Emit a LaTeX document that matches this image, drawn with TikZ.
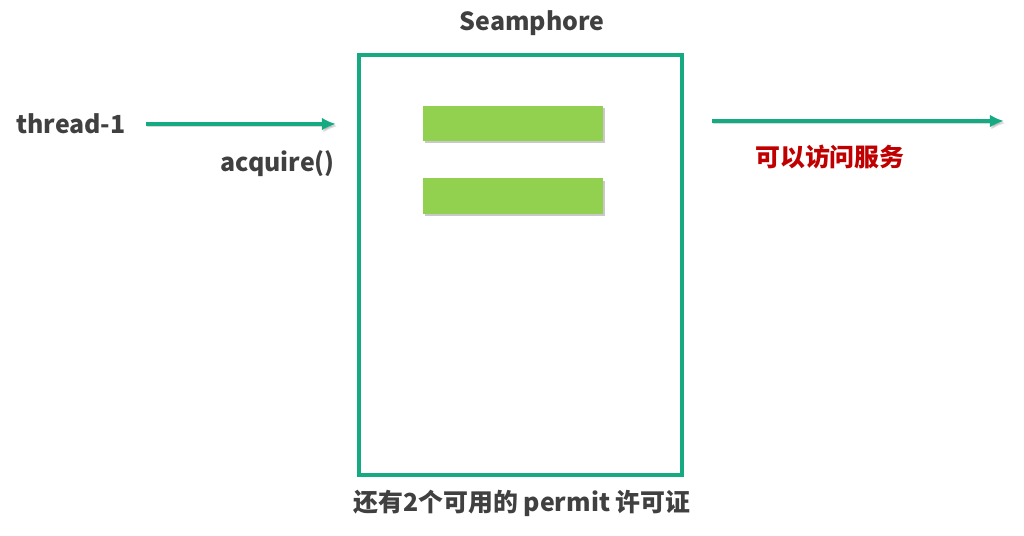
\documentclass[tikz,border=0pt]{standalone}
\usepackage{fontspec}
\setmainfont{Noto Sans CJK SC}
\usetikzlibrary{arrows.meta,shadows}
\definecolor{semgreen}{RGB}{22,170,130}
\definecolor{permitgreen}{RGB}{146,208,80}
\definecolor{labelgray}{RGB}{64,64,64}
\definecolor{okred}{RGB}{192,0,0}
\tikzset{
  labeltext/.style={font=\fontsize{17.7}{20}\selectfont\bfseries, text=labelgray, inner sep=0pt},
  flow/.style={draw=semgreen, line width=2.6pt, -{Latex[length=10pt,width=9pt]},
    preaction={draw=black!60, opacity=0.25, transform canvas={shift={(1pt,-1.5pt)}}}},
  softshadow/.style={drop shadow={shadow xshift=1.6pt, shadow yshift=-1.6pt, opacity=0.35, fill=black!60}},
  permitbar/.style={fill=permitgreen, minimum width=4.5cm, minimum height=0.875cm, inner sep=0pt, softshadow}
}
\begin{document}
\begin{tikzpicture}[x=0.025cm, y=-0.025cm]
        \useasboundingbox (0,0) rectangle (1024,536);

        % semaphore box and its permits
        \node[draw=semgreen, line width=2.8pt, fill=white, minimum width=8.075cm, minimum height=10.5cm, inner sep=0pt, softshadow] (sem) at (520.5,265) {};
        \node[permitbar] (permit1) at (513,123.5) {};
        \node[permitbar] (permit2) at (513,196) {};

        \node[labeltext] (title) at (532,23) {Seamphore};
        \node[labeltext] (bottom) at (522,503) {还有2个可用的 permit 许可证};

        % thread side
        \node[labeltext, anchor=west] (thread) at (16,124) {thread-1};
        \node[labeltext, anchor=east] (acquire) at (335,164) {acquire()};
        \coordinate (inStart) at (146,124);
        \coordinate (inEnd) at (336,124);
        \draw[flow] (inStart) -- (inEnd);

        % service side
        \coordinate (outStart) at (712,121);
        \coordinate (outEnd) at (1004,121);
        \draw[flow] (outStart) -- (outEnd);
        \node[labeltext, text=okred, anchor=west] (service) at (755,157) {可以访问服务};
      \end{tikzpicture}
\end{document}
